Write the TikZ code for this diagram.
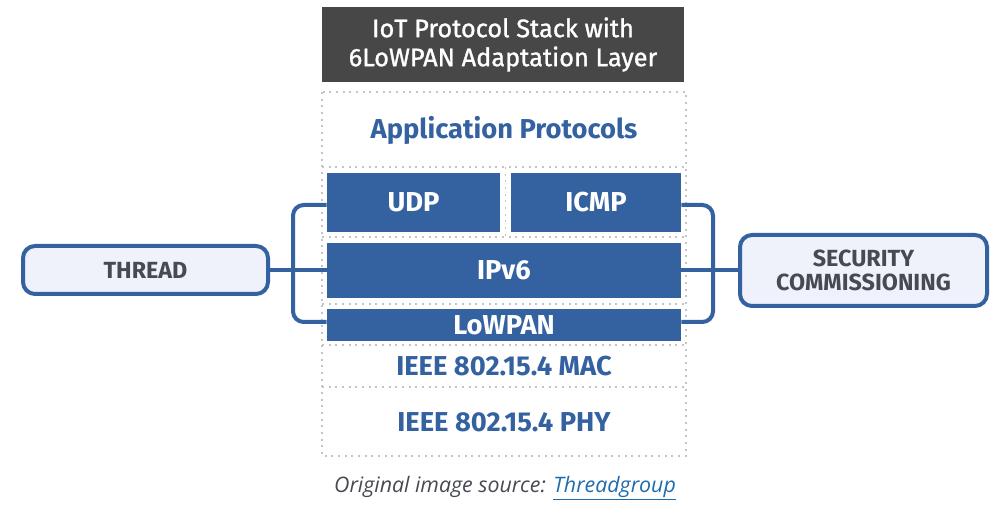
\documentclass[tikz,border=0pt]{standalone}
\usepackage{fontspec}
\setmainfont{Fira Sans}
\newfontfamily\titlefont[FakeBold=1.2]{Fira Sans}
\newfontfamily\capfont{Open Sans}
\usetikzlibrary{positioning}
\definecolor{StackBlue}{HTML}{3462A1}
\definecolor{TitleGray}{HTML}{474747}
\definecolor{DotGray}{HTML}{C4C4C4}
\definecolor{SideFill}{HTML}{EFF2FA}
\definecolor{SideText}{HTML}{474A50}
\definecolor{LinkBlue}{HTML}{1E6BAE}

\begin{document}
\begin{tikzpicture}[
	x=0.75pt, y=-0.75pt,
	titlebox/.style={
		fill=TitleGray,
		text=white,
		align=center,
		inner sep=0pt,
		font=\titlefont\fontsize{19}{21.75}\selectfont
	},
	layerbox/.style={
		fill=StackBlue,
		text=white,
		inner sep=0pt,
		font=\bfseries\fontsize{20.5}{24}\selectfont
	},
	layertext/.style={
		text=StackBlue,
		inner sep=0pt,
		font=\bfseries\fontsize{20.5}{24}\selectfont
	},
	sidebox/.style={
		draw=StackBlue,
		fill=SideFill,
		line width=3pt,
		rounded corners=9pt,
		text=SideText,
		align=center,
		inner sep=0pt,
		font=\bfseries\fontsize{17.5}{18.5}\selectfont
	},
	dotline/.style={
		draw=DotGray,
		line width=1.2pt,
		dash pattern=on 1.4pt off 3.6pt
	},
	bracket/.style={
		draw=StackBlue,
		line width=3pt,
		rounded corners=8pt
	}
	]
	\useasboundingbox (0,0) rectangle (996,513);
	% title and stack frame
	\node[titlebox, minimum width=271.5pt, minimum height=56.25pt] (title) at (503,44.5) {IoT Protocol Stack with\\6LoWPAN Adaptation Layer};
	\draw[dotline] (322,92) rectangle (686,456);
	\draw[dotline] (322,167) -- (686,167);
	\draw[dotline] (322,237) -- (686,237);
	\draw[dotline] (505.5,167) -- (505.5,237);
	\draw[dotline] (322,304) -- (686,304);
	\draw[dotline] (322,345) -- (686,345);
	\draw[dotline] (322,387) -- (686,387);
	\node[layertext] (app) at (504,130) {Application Protocols};
	\node[layerbox, minimum width=129.75pt, minimum height=44.25pt] (udp) at (413.5,202.5) {UDP};
	\node[layerbox, minimum width=127.5pt, minimum height=44.25pt] (icmp) at (596,202.5) {ICMP};
	\node[layerbox, minimum width=265.5pt, minimum height=41.25pt] (ipv6) at (504,270.5) {IPv6};
	\node[layerbox, minimum width=265.5pt, minimum height=24pt] (lowpan) at (504,325) {LoWPAN};
	\node[layertext] (mac) at (504,366) {IEEE 802.15.4 MAC};
	\node[layertext] (phy) at (504,422) {IEEE 802.15.4 PHY};
	% side boxes
	\node[sidebox, minimum width=183.75pt, minimum height=36pt] (thread) at (145.5,270) {THREAD};
	\node[sidebox, minimum width=185.25pt, minimum height=53.25pt] (sec) at (863.5,270.5) {SECURITY\\COMMISSIONING};
	% brackets
	\draw[bracket] (udp.west |- 0,205) -| (293,322) -- (lowpan.west |- 0,322);
	\draw[bracket] (icmp.east |- 0,205) -| (713,322) -- (lowpan.east |- 0,322);
	\draw[StackBlue, line width=3pt] (thread.east) -- (ipv6.west |- thread.east);
	\draw[StackBlue, line width=3pt] (ipv6.east |- sec.west) -- (sec.west);
	% caption
	\node[font=\capfont\itshape\fontsize{16}{19}\selectfont, text=SideText] (cap) at (505,488) {Original image source: \textcolor{LinkBlue}{\underline{Threadgroup}}};
\end{tikzpicture}
\end{document}
